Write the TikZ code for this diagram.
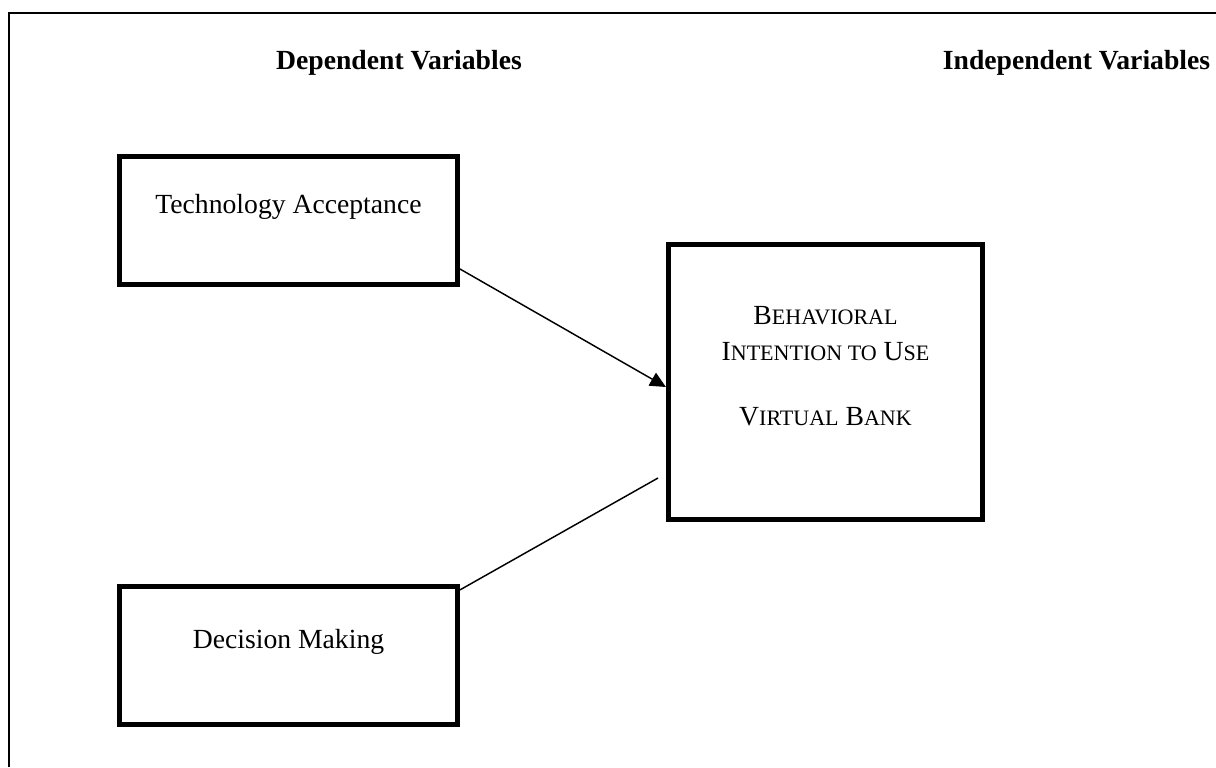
\documentclass[tikz,border=0pt]{standalone}
\usepackage{fontspec}
\setmainfont{Liberation Serif}
\usetikzlibrary{positioning,calc,arrows.meta}

\newcommand{\fakesc}[2]{#1{\fontsize{9.8}{12}\selectfont #2}}

\tikzset{
  varbox/.style={draw, line width=2.2pt, inner sep=0pt},
  header/.style={font=\fontsize{12.3}{14.4}\selectfont\bfseries},
  link/.style={line width=0.65pt},
}

\begin{document}
\begin{tikzpicture}[x=0.01563cm, y=-0.01563cm, font=\fontsize{12.3}{14.4}\selectfont]
    \useasboundingbox (0,0) rectangle (1216,767);
    \draw[line width=0.8pt] (9,767) -- (9,13) -- (1216,13);

    % headers
    \node[header] (dephead) at (399,63) {Dependent Variables};
    \node[header] (indhead) at (1076.5,63) {Independent Variables};

    % boxes
    \node[varbox, minimum width=5.28cm, minimum height=2.0cm] (tech) at (288.5,220.5) {};
    \node[varbox, minimum width=5.28cm, minimum height=2.16cm] (decision) at (288.5,655.5) {};
    \node[varbox, minimum width=4.91cm, minimum height=4.30cm] (behav) at (825.5,382) {};

    % texts
    \node (techtxt) at (288.5,207) {Technology Acceptance};
    \node (decisiontxt) at (288.5,642) {Decision Making};
    \node[align=center, font=\fontsize{12.3}{16}\selectfont] (behavtxt) at (825.5,366)
        {\fakesc{B}{EHAVIORAL}\\ \fakesc{I}{NTENTION TO} \fakesc{U}{SE}\\[13pt] \fakesc{V}{IRTUAL} \fakesc{B}{ANK}};

    % connectors
    \coordinate (gapend) at (658,478);
    \draw[link, -{Triangle[length=7pt,width=6.5pt]}] ($(tech.south east)+(0,-18)$) -- ($(behav.west)+(0,5)$);
    \draw[link] ($(decision.north east)+(0,6)$) -- (gapend);
\end{tikzpicture}
\end{document}
